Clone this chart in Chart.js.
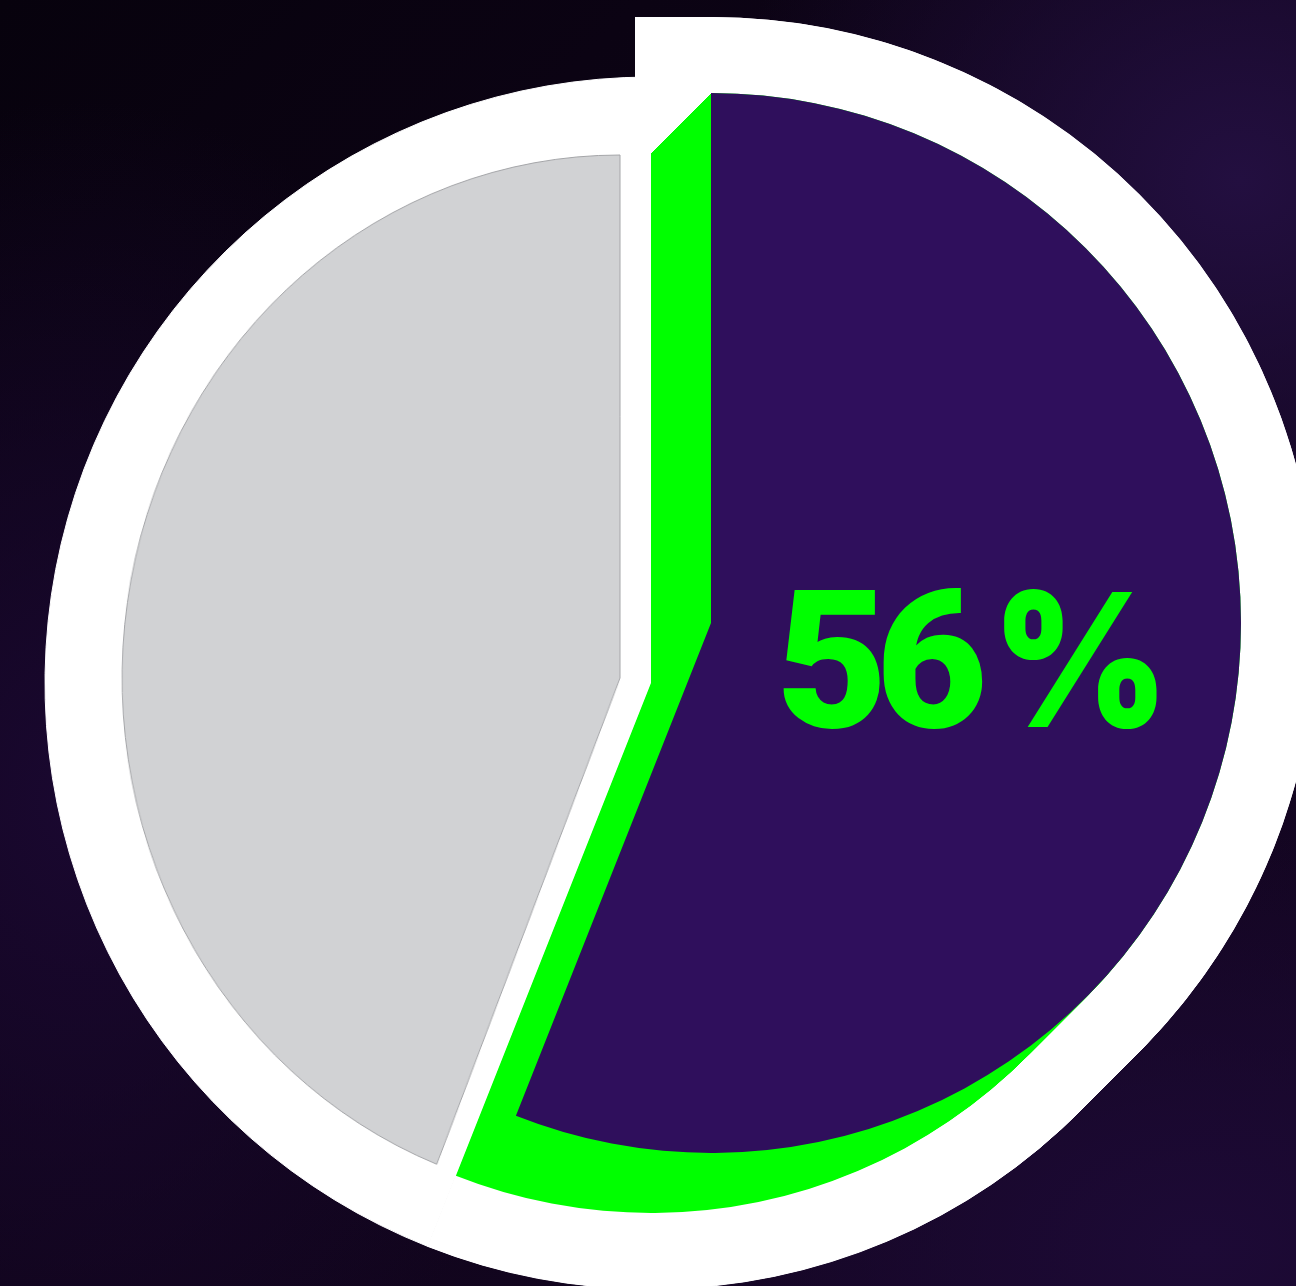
<!DOCTYPE html>
<html lang="en">
<head>
<meta charset="UTF-8">
<title>56 %</title>
<script src="https://cdn.jsdelivr.net/npm/chart.js@4.4.1/dist/chart.umd.min.js"></script>
<style>
  html, body { margin: 0; padding: 0; }
  body {
    width: 1296px; height: 1286px; overflow: hidden; position: relative;
    background:
      radial-gradient(ellipse 520px 460px at 1240px 180px, #230f40 0%, rgba(35,15,64,0) 100%),
      radial-gradient(ellipse 620px 420px at 1200px 1250px, #1d0a36 0%, rgba(29,10,54,0) 100%),
      radial-gradient(ellipse 500px 700px at 80px 800px, #1a0830 0%, rgba(26,8,48,0) 100%),
      linear-gradient(135deg, #07020d 0%, #0f0419 50%, #160626 100%);
  }
  canvas.layer { position: absolute; left: 0; top: 0; }
  #greyLayer { transform: scaleX(0.952); transform-origin: 620px 0; }
  #pct {
    position: absolute; left: 776px; top: 565px;
    font-family: Roboto, "Noto Sans", sans-serif; font-weight: 900;
    font-size: 193px; line-height: 1; letter-spacing: -12px;
    color: #00ff00; white-space: nowrap;
  }
  #pct .pc {
    display: inline-block;
    font-family: Inter, Roboto, sans-serif; font-weight: 900;
    font-size: 186px; letter-spacing: 0; margin-left: -20px;
    transform: scaleX(0.91); transform-origin: 0 0;
  }
</style>
</head>
<body>
<canvas id="ringLayer" class="layer" width="1296" height="1286"></canvas>
<canvas id="outlineLayer" class="layer" width="1296" height="1286"></canvas>
<canvas id="sweepLayer" class="layer" width="1296" height="1286"></canvas>
<canvas id="greyLayer" class="layer" width="1296" height="1286"></canvas>
<canvas id="shadowLayer" class="layer" width="1296" height="1286"></canvas>
<canvas id="pieLayer" class="layer" width="1296" height="1286"></canvas>
<div id="pct"><span class="num"></span> <span class="pc">%</span></div>

<script>
const labels = ['share', 'rest'];
const shares = [56, 44];

const PURPLE = '#2f0f5c';
const GREEN = '#00ff00';
const GREY = '#d1d2d4';
const WHITE = '#ffffff';
const NONE = 'rgba(0,0,0,0)';

// draws the dataset again at a series of small offsets, which gives the 3D side
const extrude = {
    id: 'extrude',
    beforeDatasetDraw(chart, args, opts) {
        if (!opts || !opts.steps) return;
        const ctx = chart.ctx;
        for (let i = opts.steps; i >= 1; i--) {
            ctx.save();
            ctx.translate(opts.dx * i / opts.steps, opts.dy * i / opts.steps);
            args.meta.controller.draw();
            ctx.restore();
        }
    }
};

// padding that puts the pie centre at (cx, cy) on the full page canvas
function padFor(cx, cy) {
    const dx = 2 * cx - 1296, dy = 2 * cy - 1286;
    return { left: Math.max(dx, 0), right: Math.max(-dx, 0), top: Math.max(dy, 0), bottom: Math.max(-dy, 0) };
}

function makePie(id, cx, cy, radius, ds, ext) {
    return new Chart(document.getElementById(id), {
        type: 'pie',
        data: {
            labels: labels,
            datasets: [Object.assign({ data: shares, radius: radius, borderWidth: 0 }, ds)]
        },
        options: {
            responsive: false,
            animation: false,
            events: [],
            layout: { padding: padFor(cx, cy) },
            plugins: {
                legend: { display: false },
                tooltip: { enabled: false },
                extrude: ext || { steps: 0 }
            }
        },
        plugins: [extrude]
    });
}

// big white disc behind everything
makePie('ringLayer', 651, 683, 606, {
    backgroundColor: [WHITE, WHITE], borderColor: WHITE, borderWidth: 1
});

// white outline round the raised slice
makePie('outlineLayer', 711, 623, 530, {
    backgroundColor: [WHITE, NONE], borderColor: [WHITE, NONE],
    borderWidth: [152, 0], borderJoinStyle: 'miter'
});

// white outline following the depth of the raised slice
makePie('sweepLayer', 711, 623, 606, {
    backgroundColor: [WHITE, NONE]
}, { dx: -60, dy: 60, steps: 60 });

// grey remainder
makePie('greyLayer', 620, 678, 523, {
    backgroundColor: [NONE, GREY], borderColor: [NONE, '#a4a5a8'], borderWidth: [0, 1]
});

// green side of the raised slice
makePie('shadowLayer', 711, 623, 530, {
    backgroundColor: [GREEN, NONE]
}, { dx: -60, dy: 60, steps: 60 });

// purple top of the raised slice
makePie('pieLayer', 711, 623, 530, {
    backgroundColor: [PURPLE, NONE]
});

document.querySelector('#pct .num').textContent = shares[0];
</script>
</body>
</html>
